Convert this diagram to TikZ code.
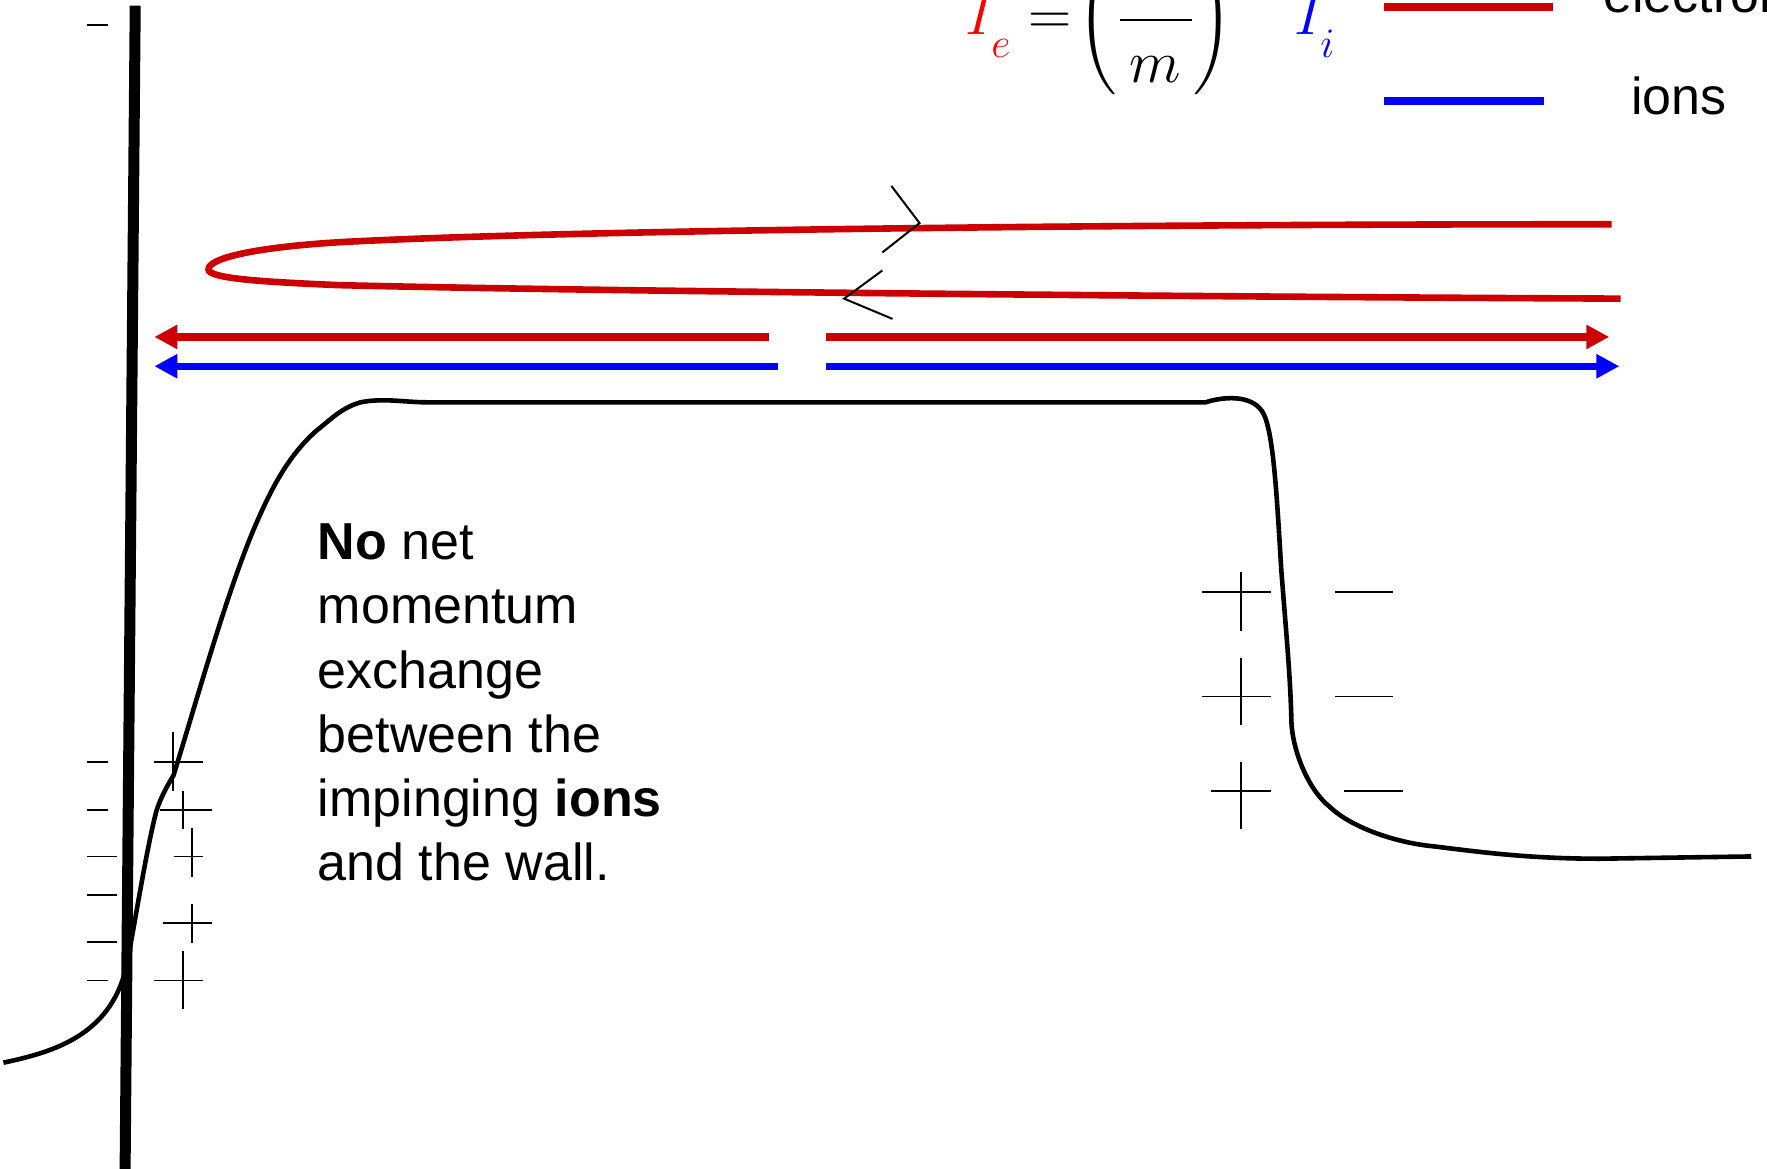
\RequirePackage{fix-cm}
\documentclass[tikz,border=0pt]{standalone}
\usepackage{amsmath}
\usepackage{fontspec}
\setmainfont{Liberation Sans}
\usetikzlibrary{arrows.meta}

\definecolor{elecred}{RGB}{204,0,0}
\definecolor{ionblue}{RGB}{0,0,255}

\tikzset{every picture/.style={line width=0.75pt}}
\tikzset{
  wall/.style={line width=5.5pt},
  potential/.style={line width=2.3pt},
  charge/.style={line width=0.9pt},
  ray/.style={line width=3.6pt},
  raytip/.style={-{Triangle[length=11.5pt,width=11.5pt]}},
  legendline/.style={line width=4pt},
  bigtext/.style={font=\fontsize{26}{32.1}\selectfont},
  mathtext/.style={font=\fontsize{30}{36}\selectfont},
}
\newcommand{\lowsub}[1]{_{\raisebox{-0.22em}{$\scriptstyle #1$}}}

\begin{document}
\begin{tikzpicture}[x=0.5635pt,y=0.5635pt,yscale=-1,xscale=1]
\path[use as bounding box] (0,0) rectangle (1568,1037);
\clip (0,0) rectangle (1568,1037);

%Shape: Curve [id:potential]
\draw [potential] (3,943) .. controls (45,934) and (98,920) .. (112,858) .. controls (118,830) and (130,752) .. (139,719) .. controls (143,707) and (148,698) .. (154,688) .. controls (175,620) and (200,530) .. (225,470) .. controls (240,435) and (255,405) .. (281,382) .. controls (295,371) and (303,362) .. (320,357) .. controls (340,353) and (360,357) .. (378,357) -- (1070,357) .. controls (1085,352) and (1110,350) .. (1120,365) .. controls (1130,380) and (1133,440) .. (1137,506) .. controls (1142,570) and (1145,600) .. (1146,641) .. controls (1147,665) and (1160,700) .. (1180,716) .. controls (1200,735) and (1240,748) .. (1272,751) .. controls (1320,757) and (1360,762) .. (1420,762) -- (1554,760) ;
%Straight Lines [id:wall]
\draw [wall] (120,5) -- (111,1040) ;

%Straight Lines [id:minus top]
\draw [charge] (77,22) -- (96,22) ;
%Straight Lines [id:minus left]
\draw [charge] (77,676) -- (96,676) ;
\draw [charge] (77,719) -- (96,719) ;
\draw [charge] (77,760) -- (104,760) ;
\draw [charge] (77,794) -- (104,794) ;
\draw [charge] (77,836) -- (104,836) ;
\draw [charge] (77,870) -- (96,870) ;
%Straight Lines [id:plus left]
\draw [charge] (137,676) -- (180,676) (153.6,650) -- (153.6,702) ;
\draw [charge] (142,719) -- (188,719) (162.6,702) -- (162.6,736) ;
\draw [charge] (154,760) -- (180,760) (170.6,735) -- (170.6,778) ;
\draw [charge] (145,819) -- (188,819) (170.6,802) -- (170.6,837) ;
\draw [charge] (137,870) -- (180,870) (162.6,844) -- (162.6,895) ;
%Straight Lines [id:plus right]
\draw [charge] (1067,525) -- (1128,525) (1101,508) -- (1101,560) ;
\draw [charge] (1067,618) -- (1128,618) (1101,584) -- (1101,643) ;
\draw [charge] (1075,702) -- (1128,702) (1101,676) -- (1101,736) ;
%Straight Lines [id:minus right]
\draw [charge] (1185,525) -- (1236,525) ;
\draw [charge] (1185,618) -- (1236,618) ;
\draw [charge] (1193,702) -- (1245,702) ;

%Shape: Curve [id:electron orbit]
\draw [ray, line width=3.3pt, color=elecred] (1430,199) .. controls (1000,199) and (500,204) .. (300,215) .. controls (220,220) and (185,230) .. (185,239) .. controls (185,247) and (230,250) .. (300,253) .. controls (500,258) and (1000,263) .. (1438,265) ;
%Straight Lines [id:chevrons]
\draw [line width=1pt] (791,165) -- (816,198) -- (783,224) ;
\draw [line width=1pt] (783,240) -- (749,265) -- (792,283) ;

%Straight Lines [id:electron flux]
\draw [ray, color=elecred, raytip] (682,299) -- (137,299) ;
\draw [ray, color=elecred, raytip] (733,299) -- (1428,299) ;
%Straight Lines [id:ion flux]
\draw [ray, color=ionblue, raytip] (690,325) -- (137,325) ;
\draw [ray, color=ionblue, raytip] (733,325) -- (1437,325) ;

%Straight Lines [id:legend]
\draw [legendline, color=elecred] (1228,6) -- (1378,6) ;
\draw [legendline, color=ionblue] (1228,90) -- (1370,90) ;

% Text Node
\draw (1422,11) node [anchor=base west][inner sep=0pt] [bigtext] (electrons) {electrons};
% Text Node
\draw (1447,102) node [anchor=base west][inner sep=0pt] [bigtext] (ions) {ions};
% Text Node
\draw (856,31) node [anchor=base west][inner sep=0pt] [mathtext] (ratio) {$\color{red}I\lowsub{e}\color{black} = \!\left(\dfrac{\phantom{M_i}}{\raisebox{-3.4pt}{$m$}}\right)$};
% Text Node
\draw (1148,31) node [anchor=base west][inner sep=0pt] [mathtext] (ioncurrent) {$\color{blue}I\lowsub{i}$};
% Text Node
\draw (280,463) node [anchor=north west][inner sep=0.75pt] [bigtext] [align=left] (note) {\textbf{No} net\\momentum\\exchange\\between the\\impinging \textbf{ions}\\and the wall.};

\end{tikzpicture}
\end{document}
